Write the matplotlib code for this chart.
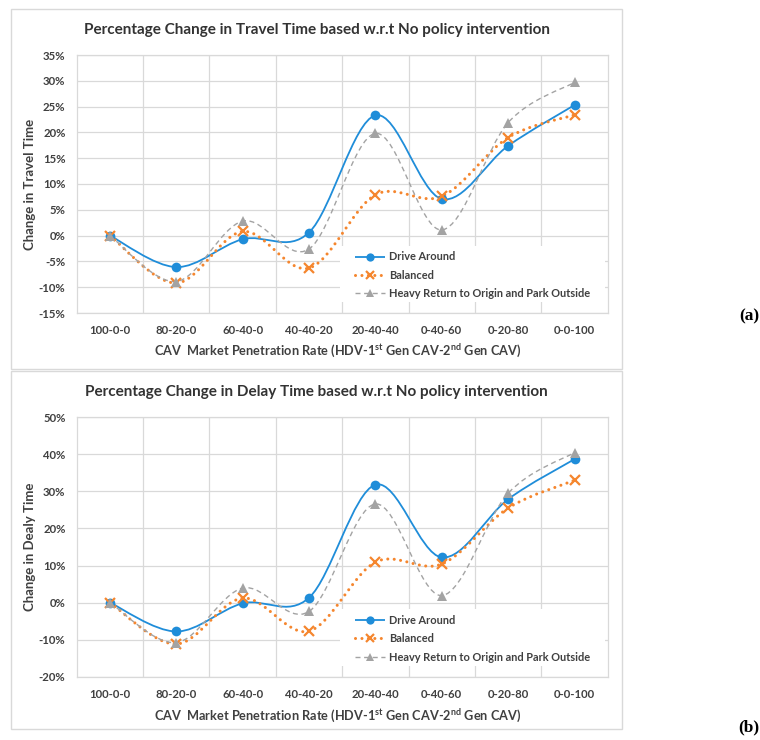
import numpy as np
import matplotlib
matplotlib.use("Agg")
import matplotlib.pyplot as plt
from matplotlib.path import Path
from matplotlib.patches import PathPatch, Rectangle
from matplotlib.lines import Line2D
from matplotlib.ticker import PercentFormatter, MultipleLocator, FixedLocator

plt.rcParams['font.family'] = ['Lato', 'DejaVu Sans']
plt.rcParams['axes.unicode_minus'] = False
plt.rcParams['mathtext.fontset'] = 'custom'
plt.rcParams['mathtext.rm'] = 'Lato:bold'
plt.rcParams['mathtext.it'] = 'Lato:bold'
plt.rcParams['mathtext.bf'] = 'Lato:bold'

categories = ['100-0-0', '80-20-0', '60-40-0', '40-40-20', '20-40-40', '0-40-60', '0-20-80', '0-0-100']
series_names = ['Drive Around', 'Balanced', 'Heavy Return to Origin and Park Outside']

travel_drive = [0, -6.1, -0.7, 0.6, 23.3, 7.1, 17.4, 25.3]
travel_balanced = [0, -9.2, 0.8, -6.3, 7.9, 7.6, 19.0, 23.4]
travel_heavy = [0, -8.9, 2.8, -2.6, 19.8, 1.1, 21.9, 29.7]

delay_drive = [0, -7.8, -0.2, 1.3, 31.8, 12.2, 27.9, 38.7]
delay_balanced = [0, -11.2, 1.2, -7.7, 10.9, 10.4, 25.5, 33.0]
delay_heavy = [0, -10.8, 3.9, -2.4, 26.6, 1.9, 29.5, 40.5]

titles = ['Percentage Change in Travel Time based w.r.t No policy intervention',
          'Percentage Change in Delay Time based w.r.t No policy intervention']
ylabels = ['Change in Travel Time', 'Change in Dealy Time']
xlabel = r'CAV  Market Penetration Rate (HDV-1$^{\mathrm{st}}$ Gen CAV-2$^{\mathrm{nd}}$ Gen CAV)'
panel_labels = ['(a)', '(b)']
ylims = [(-15, 35, 5), (-20, 50, 10)]

BLUE = '#1f8dd9'
ORANGE = '#f5862e'
GRAY = '#a3a3a3'
GRID = '#d9d9d9'
TXT = '#404040'

styles = [
    dict(color=BLUE, lw=1.3, ls='-', marker='o', ms=7, mew=0, capstyle='butt'),
    dict(color=ORANGE, lw=2.2, ls=(0, (0.01, 2.1)), marker='x', ms=7.5, mew=1.6, capstyle='round'),
    dict(color=GRAY, lw=1.0, ls=(0, (3.6, 2.6)), marker='^', ms=6.5, mew=0, capstyle='butt'),
]


def smooth_path(xs, ys):
    pts = np.column_stack([np.asarray(xs, float), np.asarray(ys, float)])
    n = len(pts)
    verts = [pts[0]]
    codes = [Path.MOVETO]
    for i in range(n - 1):
        p0 = pts[max(i - 1, 0)]
        p1 = pts[i]
        p2 = pts[i + 1]
        p3 = pts[min(i + 2, n - 1)]
        c1 = p1 + (p2 - p0) / 6.0
        c2 = p2 - (p3 - p1) / 6.0
        verts += [c1, c2, p2]
        codes += [Path.CURVE4] * 3
    return Path(verts, codes)


W, H = 760, 740
fig = plt.figure(figsize=(W / 100, H / 100), dpi=100)
fig.patch.set_facecolor('white')

# chart boxes
for (y0, y1) in [(9, 369), (371, 729)]:
    fig.patches.append(Rectangle((11 / W, 1 - y1 / H), (622 - 11) / W, (y1 - y0) / H,
                                 transform=fig.transFigure, fill=False,
                                 edgecolor='#d9d9d9', lw=1.0, zorder=0))

axes_px = [(76.7, 55, 607.7, 313), (76.7, 417.3, 607.7, 676.7)]
title_y = [30, 391.7]
xlabel_y = [351.7, 716.7]
panel_y = [316, 727]
data = [(travel_drive, travel_balanced, travel_heavy),
        (delay_drive, delay_balanced, delay_heavy)]

x = np.arange(len(categories))

for k in range(2):
    l, t, r, b = axes_px[k]
    ax = fig.add_axes([l / W, 1 - b / H, (r - l) / W, (b - t) / H])
    ymin, ymax, step = ylims[k]
    ax.set_xlim(-0.5, len(categories) - 0.5)
    ax.set_ylim(ymin, ymax)
    ax.yaxis.set_major_locator(MultipleLocator(step))
    ax.yaxis.set_major_formatter(PercentFormatter(xmax=100, decimals=0))
    ax.set_xticks(x)
    ax.set_xticklabels(categories)
    ax.xaxis.set_minor_locator(FixedLocator(np.arange(0.5, len(categories) - 0.5, 1.0)))
    ax.grid(True, axis='y', which='major', color=GRID, lw=0.9)
    ax.grid(True, axis='x', which='minor', color=GRID, lw=0.9)
    ax.set_axisbelow(True)
    for s in ax.spines.values():
        s.set_color(GRID)
        s.set_linewidth(0.9)
    ax.tick_params(axis='both', which='both', length=0)
    ax.tick_params(axis='y', pad=8.0, labelsize=8.2, labelcolor=TXT)
    ax.tick_params(axis='x', pad=9.0, labelsize=8.2, labelcolor=TXT)
    for lab in ax.get_xticklabels() + ax.get_yticklabels():
        lab.set_fontweight('bold')

    # white legend area (Excel legend box)
    ax.add_patch(Rectangle((0.496, 0.043), 0.499, 0.217, transform=ax.transAxes,
                           facecolor='white', edgecolor='none', zorder=2.5))

    handles = []
    for vals, st, name in zip(data[k], styles, series_names):
        patch = PathPatch(smooth_path(x, vals), fill=False, edgecolor=st['color'],
                          lw=st['lw'], linestyle=st['ls'], zorder=3)
        patch.set_capstyle(st['capstyle'])
        ax.add_patch(patch)
        ax.plot(x, vals, ls='none', marker=st['marker'], ms=st['ms'],
                color=st['color'], mew=st['mew'], zorder=4)
        h = Line2D([], [], color=st['color'], lw=st['lw'], ls=st['ls'],
                   marker=st['marker'], ms=st['ms'] * 0.85, mew=st['mew'],
                   solid_capstyle=st['capstyle'], dash_capstyle=st['capstyle'])
        handles.append(h)

    leg = ax.legend(handles, series_names, loc='center left',
                    bbox_to_anchor=(0.509, 0.146), frameon=False,
                    fontsize=7.9, handlelength=2.8, handletextpad=0.3,
                    labelspacing=0.68, borderpad=0.7, borderaxespad=0.0)
    leg.set_zorder(5)
    for txt in leg.get_texts():
        txt.set_color(TXT)
        txt.set_fontweight('bold')

    fig.text((11 + 622) / 2 / W, 1 - title_y[k] / H, titles[k], ha='center', va='center',
             fontsize=11.0, fontweight='bold', color='#333333')
    fig.text(30 / W, 1 - ((t + b) / 2) / H, ylabels[k], rotation=90, ha='center', va='center',
             fontsize=9.5, fontweight='bold', color=TXT)
    fig.text((l + r) / 2 / W - 5 / W, 1 - xlabel_y[k] / H, xlabel, ha='center', va='center',
             fontsize=9.2, fontweight='bold', color=TXT)
    fig.text(759 / W, 1 - panel_y[k] / H, panel_labels[k], ha='right', va='center',
             fontsize=12.5, fontweight='bold', family='Liberation Serif', color='black')

fig.savefig('out.png', dpi=100, facecolor='white')
